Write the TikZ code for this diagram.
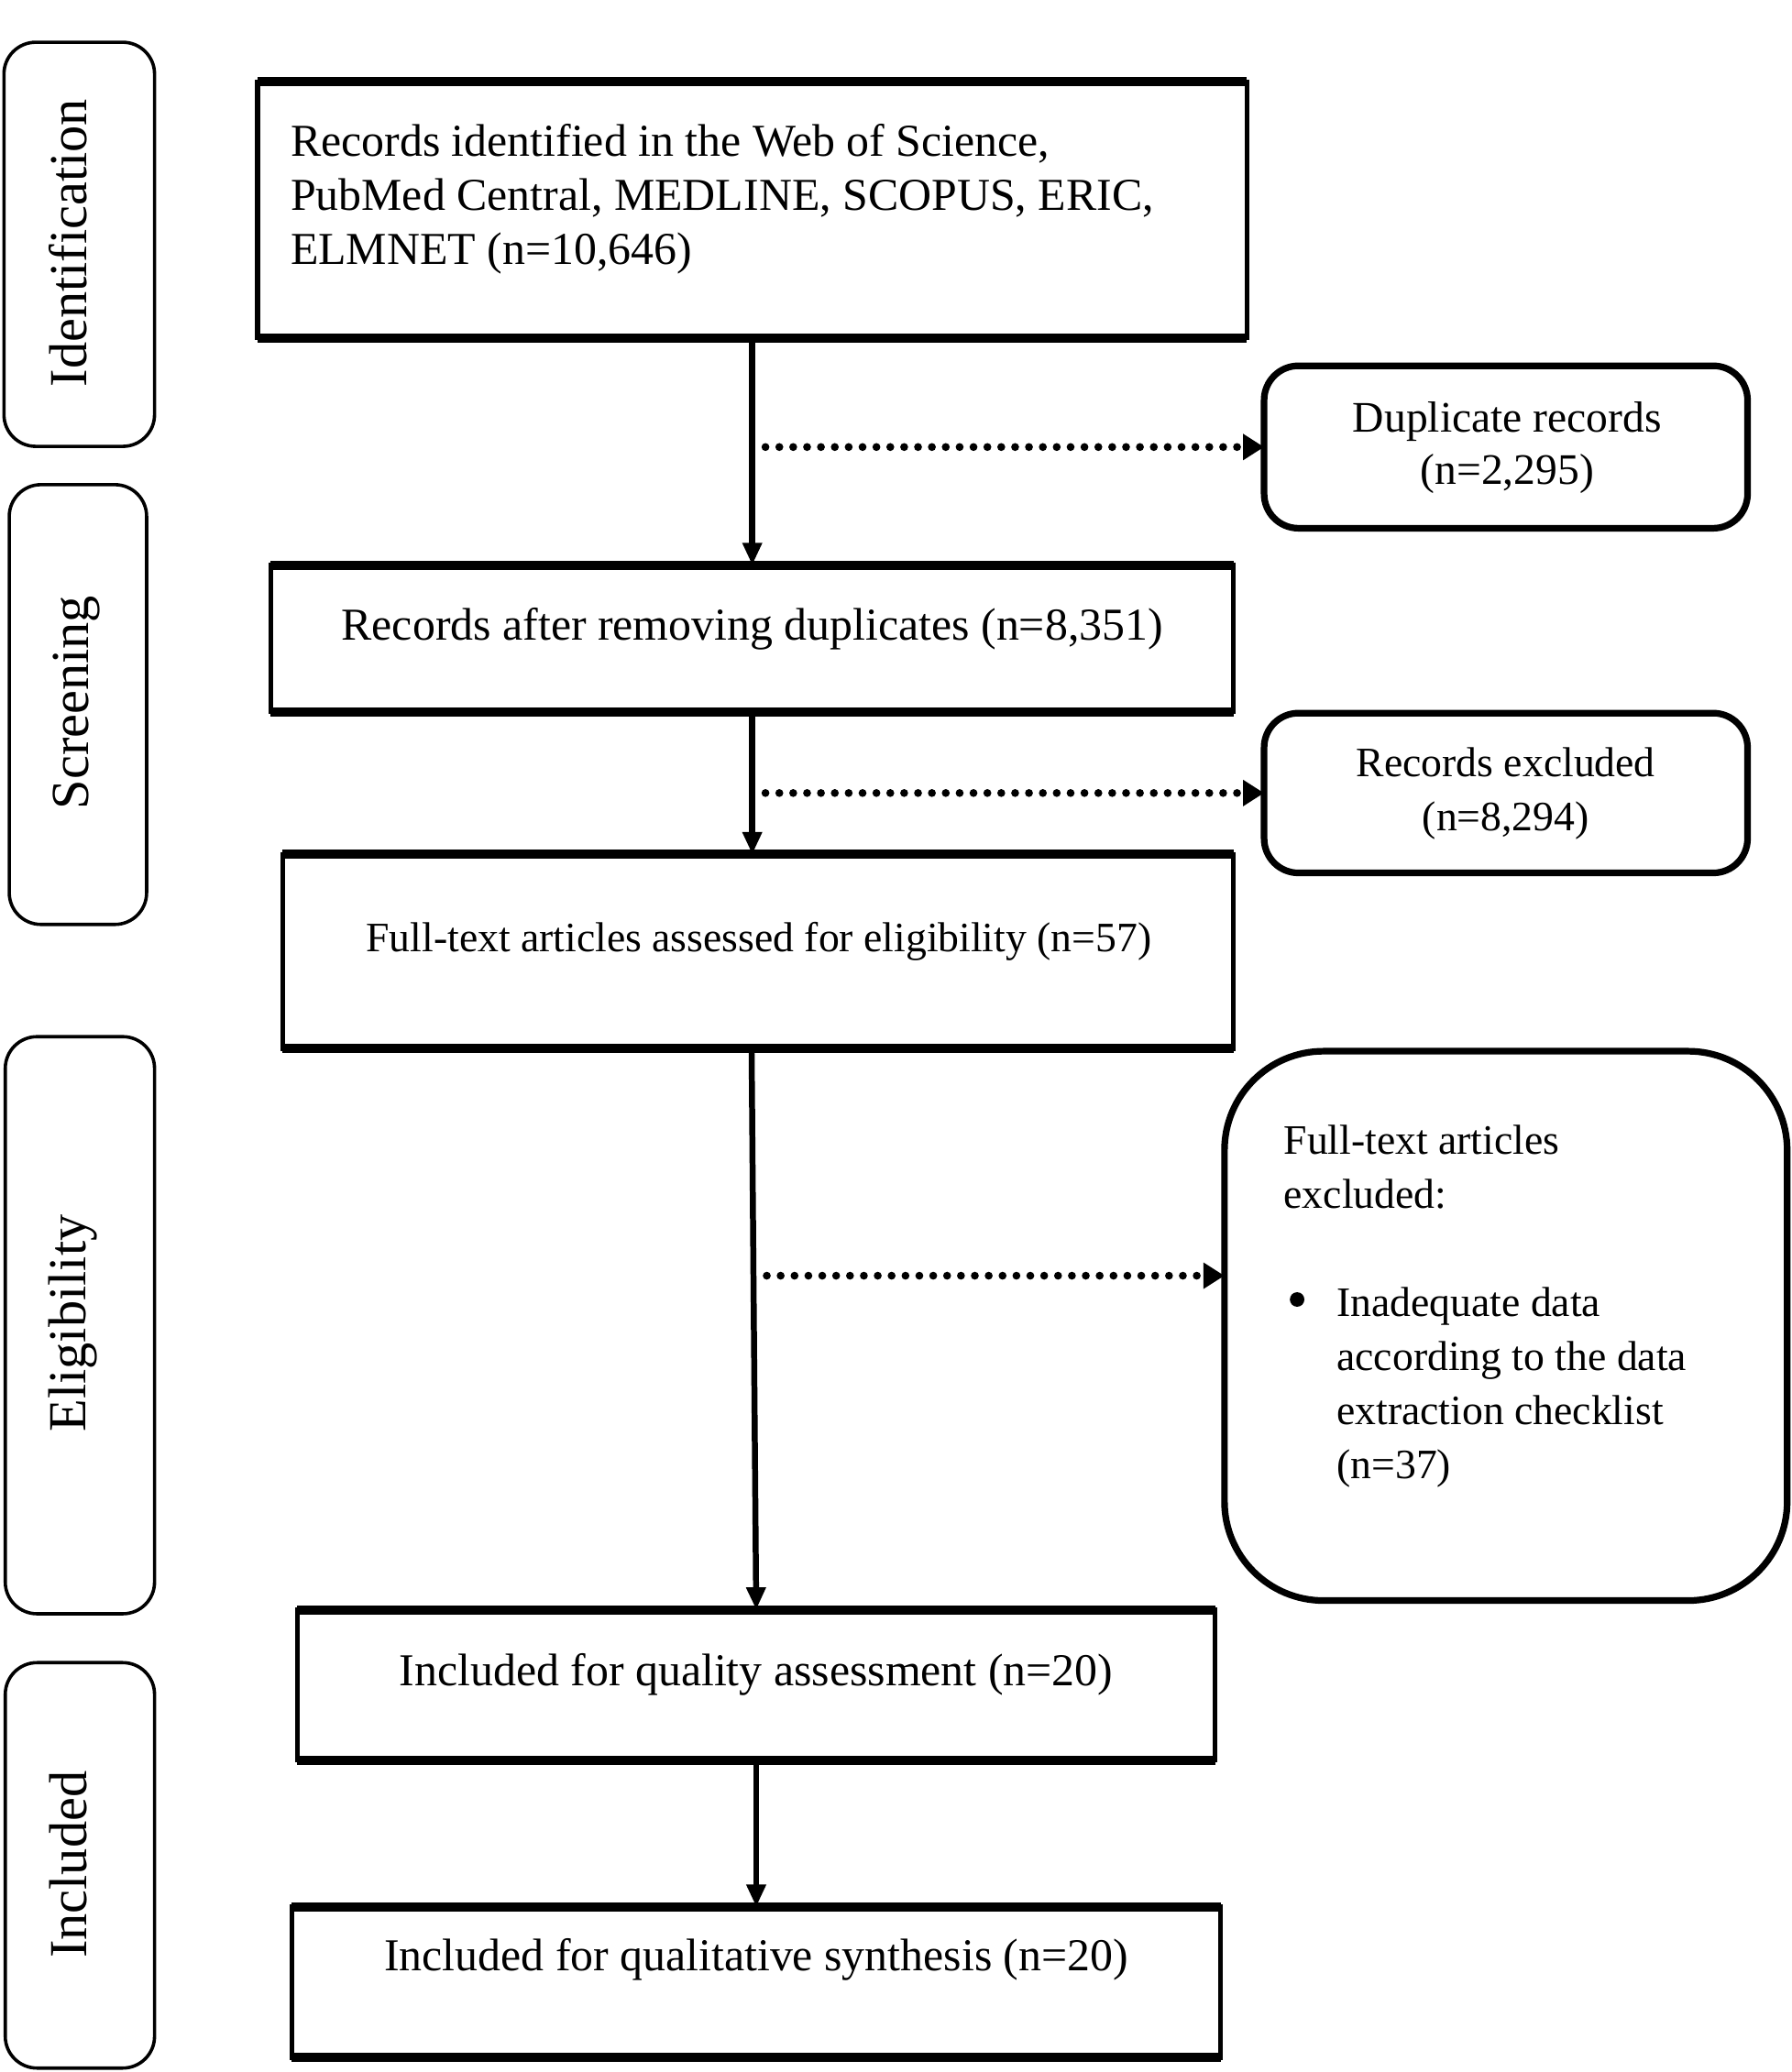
\documentclass[tikz,border=0pt]{standalone}
\usepackage{fontspec}
\setmainfont{Liberation Serif}
\usetikzlibrary{arrows.meta,calc}
\begin{document}
\begin{tikzpicture}[x=1pt,y=-1pt,
  every node/.style={inner sep=0pt, outer sep=0pt},
  mainbox/.style={draw, line width=3.5pt, rectangle},
  edgeline/.style={line width=7pt},
  sidebox/.style={draw, line width=2.5pt, rounded corners=24pt},
  rbox/.style={draw, line width=5pt, rounded corners=26pt},
  bigtxt/.style={font=\fontsize{34.6pt}{41pt}\selectfont},
  midtxt/.style={font=\fontsize{33pt}{40pt}\selectfont},
  smalltxt/.style={font=\fontsize{31.7pt}{41pt}\selectfont},
  sidetxt/.style={font=\fontsize{40.5pt}{48pt}\selectfont, rotate=90},
  flow/.style={line width=4.5pt, -{Triangle[length=17pt,width=14pt]}},
  dots/.style={line width=6pt, line cap=round, dash pattern=on 0pt off 10.5pt, -{Triangle[length=16pt,width=19pt]}},
]
\useasboundingbox (0,0) rectangle (1356,1569);

% phase labels
\node[sidebox, minimum width=114pt, minimum height=306pt] (s1) at (60,185) {};
\node[sidebox, minimum width=104pt, minimum height=333pt] (s2) at (59,533.5) {};
\node[sidebox, minimum width=113pt, minimum height=437pt] (s3) at (60.5,1003.5) {};
\node[sidebox, minimum width=113pt, minimum height=307pt] (s4) at (60.5,1412.5) {};
\node[sidetxt] (l1) at (51.5,184) {Identification};
\node[sidetxt] (l2) at (58,532) {Screening};
\node[sidetxt] (l3) at (55,1002) {Eligibility};
\node[sidetxt] (l4) at (52,1412) {Included};

% main boxes
\node[mainbox, minimum width=749pt, minimum height=194pt] (b1) at (569.5,159) {};
\node[mainbox, minimum width=729pt, minimum height=111pt] (b2) at (569.5,483.5) {};
\node[mainbox, minimum width=720pt, minimum height=147pt] (b3) at (574,720.5) {};
\node[mainbox, minimum width=695pt, minimum height=114pt] (b4) at (572.5,1276) {};
\node[mainbox, minimum width=703pt, minimum height=114pt] (b5) at (572.5,1501) {};
\foreach \b in {b1,b2,b3,b4,b5}{
  \draw[edgeline] (\b.north west) -- (\b.north east);
  \draw[edgeline] (\b.south west) -- (\b.south east);
}

\node[bigtxt, anchor=west, align=left] (t1) at (220,151) {Records identified in the Web of Science,\\PubMed Central, MEDLINE, SCOPUS, ERIC,\\ELMNET (n=10,646)};
\node[bigtxt] (t2) at (569.5,476) {Records after removing duplicates (n=8,351)};
\node[smalltxt] (t3) at (574.5,713) {Full-text articles assessed for eligibility (n=57)};
\node[bigtxt] (t4) at (572.5,1268) {Included for quality assessment (n=20)};
\node[bigtxt] (t5) at (572.5,1484) {Included for qualitative synthesis (n=20)};

% side boxes
\node[rbox, minimum width=366pt, minimum height=123pt] (dup) at (1140,338.5) {};
\node[midtxt, align=center] (tdup) at (1141,339) {Duplicate records\\(n=2,295)};
\node[rbox, minimum width=366pt, minimum height=121pt] (ex) at (1140,600.5) {};
\node[smalltxt, align=center] (tex) at (1140,601) {Records excluded\\(n=8,294)};
\node[draw, line width=5pt, rounded corners=75pt, minimum width=426pt, minimum height=416pt] (ftx) at (1140,1004) {};
\node[smalltxt, anchor=north west, align=left] (tftx) at (972,852) {Full-text articles\\excluded:\\[41pt]\hspace*{40pt}Inadequate data\\\hspace*{40pt}according to the data\\\hspace*{40pt}extraction checklist\\\hspace*{40pt}(n=37)};
\node[circle, fill, minimum size=11pt] (bul) at (982,984) {};

% connectors
\draw[flow] (b1.south) -- (b2.north);
\coordinate (d1) at (b1.south |- dup.west);
\draw[dots] ([xshift=10pt]d1) -- (dup.west);
\coordinate (m2) at (b2.south |- b3.north);
\draw[flow] (b2.south) -- (m2);
\coordinate (d2) at (b2.south |- ex.west);
\draw[dots] ([xshift=10pt]d2) -- (ex.west);
\draw[flow] ([xshift=-5pt]b3.south) -- (b4.north);
\coordinate (d3e) at ([yshift=38pt]ftx.west);
\coordinate (d3s) at (d3e -| b4.north);
\draw[dots] ([xshift=8pt]d3s) -- (d3e);
\draw[flow] (b4.south) -- (b5.north);
\end{tikzpicture}
\end{document}
